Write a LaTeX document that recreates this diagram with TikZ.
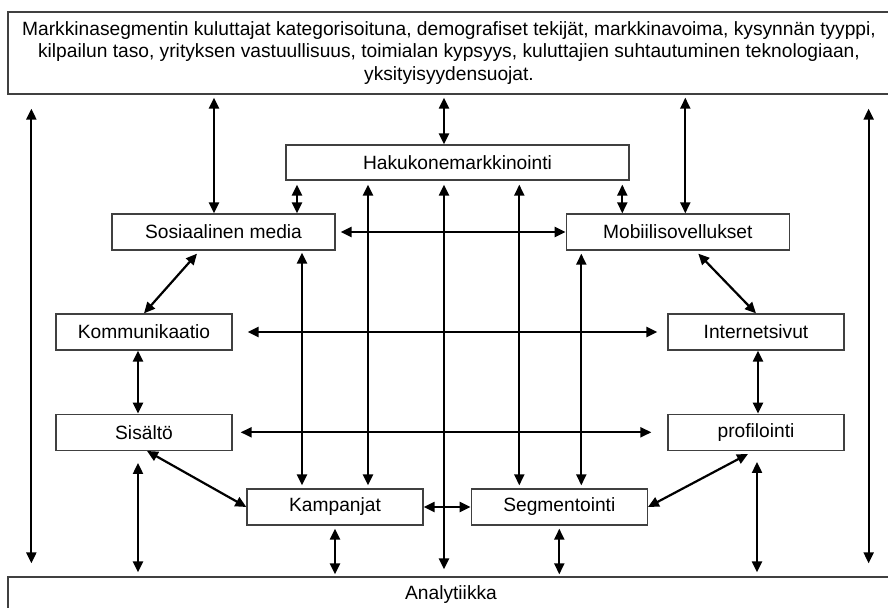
\documentclass[tikz,border=0pt]{standalone}
\usepackage{fontspec}
\setmainfont{Liberation Sans}
\usepackage{tikz}
\usetikzlibrary{arrows.meta, positioning, calc}

\begin{document}
\begin{tikzpicture}[
        x=0.5pt, y=0.5pt,
        box/.style={rectangle, draw=black!75, line width=0.65pt, inner sep=0pt, minimum height=18pt, font=\fontsize{9.6}{11.25}\selectfont},
        small/.style={box, minimum width=88pt},
        wide/.style={box, minimum width=111.5pt},
        arrow/.style={{Triangle[length=5.5pt,width=5pt]}-{Triangle[length=5.5pt,width=5pt]}, line width=1.1pt}
    ]
        \useasboundingbox (0,0) rectangle (888,607);

        \node[box, minimum width=441pt, minimum height=41pt, align=center] (top) at (449,554) {Markkinasegmentin kuluttajat kategorisoituna, demografiset tekijät, markkinavoima, kysynnän tyyppi,\\kilpailun taso, yrityksen vastuullisuus, toimialan kypsyys, kuluttajien suhtautuminen teknologiaan,\\yksityisyydensuojat.};
        \node[box, minimum width=171.5pt, minimum height=17.5pt] (hak) at (457.5,444.5) {Hakukonemarkkinointi};
        \node[wide] (soc) at (223.5,375) {Sosiaalinen media};
        \node[wide, right=115pt of soc] (mob) {Mobiilisovellukset};
        \node[small] (kom) at (144,275) {Kommunikaatio};
        \node[small, below=31.5pt of kom] (sis) {Sisältö};
        \node[small] (int) at (756,275) {Internetsivut};
        \node[small, below=31.5pt of int] (pro) {profilointi};
        \node[small] (kam) at (335,100) {Kampanjat};
        \node[small, right=23.5pt of kam] (seg) {Segmentointi};
        \node[box, minimum width=443pt] (ana) at (451,12) {Analytiikka};

        % outer frame arrows
        \draw[arrow] ([shift={(12pt,-7pt)}]top.south west) -- ([shift={(12pt,6.5pt)}]ana.north west);
        \draw[arrow] ([shift={(-11pt,-7pt)}]top.south east) -- ([shift={(-13pt,6.5pt)}]ana.north east);

        % top box
        \draw[arrow] ($(soc.north)+(-4.75pt,0)$) -- ($(soc.north |- top.south)+(-4.75pt,-1.5pt)$);
        \draw[arrow] ($(hak.north)+(-6.75pt,0)$) -- ($(hak.north |- top.south)+(-6.75pt,-1.5pt)$);
        \draw[arrow] ($(mob.north)+(3.75pt,0)$) -- ($(mob.north |- top.south)+(3.75pt,-1.5pt)$);

        % hakukone
        \draw[arrow] ($(soc.north)+(36.75pt,0)$) -- ($(soc.north |- hak.south)+(36.75pt,-2pt)$);
        \draw[arrow] ($(mob.north)+(-27.75pt,0)$) -- ($(mob.north |- hak.south)+(-27.75pt,-2pt)$);
        \draw[arrow] ($(kam.north)+(16.5pt,1.5pt)$) -- ($(kam.north |- hak.south)+(16.5pt,-2pt)$);
        \draw[arrow] ($(seg.north)+(-20pt,1.5pt)$) -- ($(seg.north |- hak.south)+(-20pt,-2pt)$);
        \draw[arrow] ($(hak.south)+(-6.75pt,-2pt)$) -- ($(hak.south |- ana.north)+(-6.75pt,3.5pt)$);

        % media and apps down
        \draw[arrow] ($(kam.north)+(-16.5pt,1.5pt)$) -- ($(kam.north |- soc.south)+(-16.5pt,-1pt)$);
        \draw[arrow] ($(seg.north)+(11pt,1.5pt)$) -- ($(seg.north |- mob.south)+(11pt,-1.5pt)$);

        % across
        \draw[arrow] ([xshift=2.5pt]soc.east) -- (mob.west);
        \draw[arrow] ([xshift=7.5pt]kom.east) -- ([xshift=-5pt]int.west);
        \draw[arrow] ([xshift=4pt]sis.east) -- ([xshift=-8pt]pro.west);
        \draw[arrow] (kam.east) -- (seg.west);

        % diagonals
        \draw[arrow] ($(soc.south)+(-13.25pt,-1.5pt)$) -- (kom.north);
        \draw[arrow] ($(mob.south)+(10.25pt,-1.5pt)$) -- (int.north);
        \draw[arrow] ($(sis.south)+(1.5pt,0)$) -- (kam.west);
        \draw[arrow] ($(pro.south)+(-4pt,-1.5pt)$) -- (seg.east);

        % sides
        \draw[arrow] ($(kom.south)+(-3pt,0)$) -- ($(sis.north)+(-3pt,0)$);
        \draw[arrow] ($(int.south)+(1pt,0)$) -- ($(pro.north)+(1pt,0)$);

        % to analytiikka
        \draw[arrow] ($(sis.south)+(-3pt,-6pt)$) -- ($(sis.south |- ana.north)+(-3pt,2pt)$);
        \draw[arrow] ($(kam.south)+(0,-1.5pt)$) -- ($(kam.south |- ana.north)+(0,1pt)$);
        \draw[arrow] ($(seg.south)+(0,-1.5pt)$) -- ($(seg.south |- ana.north)+(0,1pt)$);
        \draw[arrow] ($(pro.south)+(0.5pt,-5.5pt)$) -- ($(pro.south |- ana.north)+(0.5pt,2pt)$);
    \end{tikzpicture}
\end{document}
